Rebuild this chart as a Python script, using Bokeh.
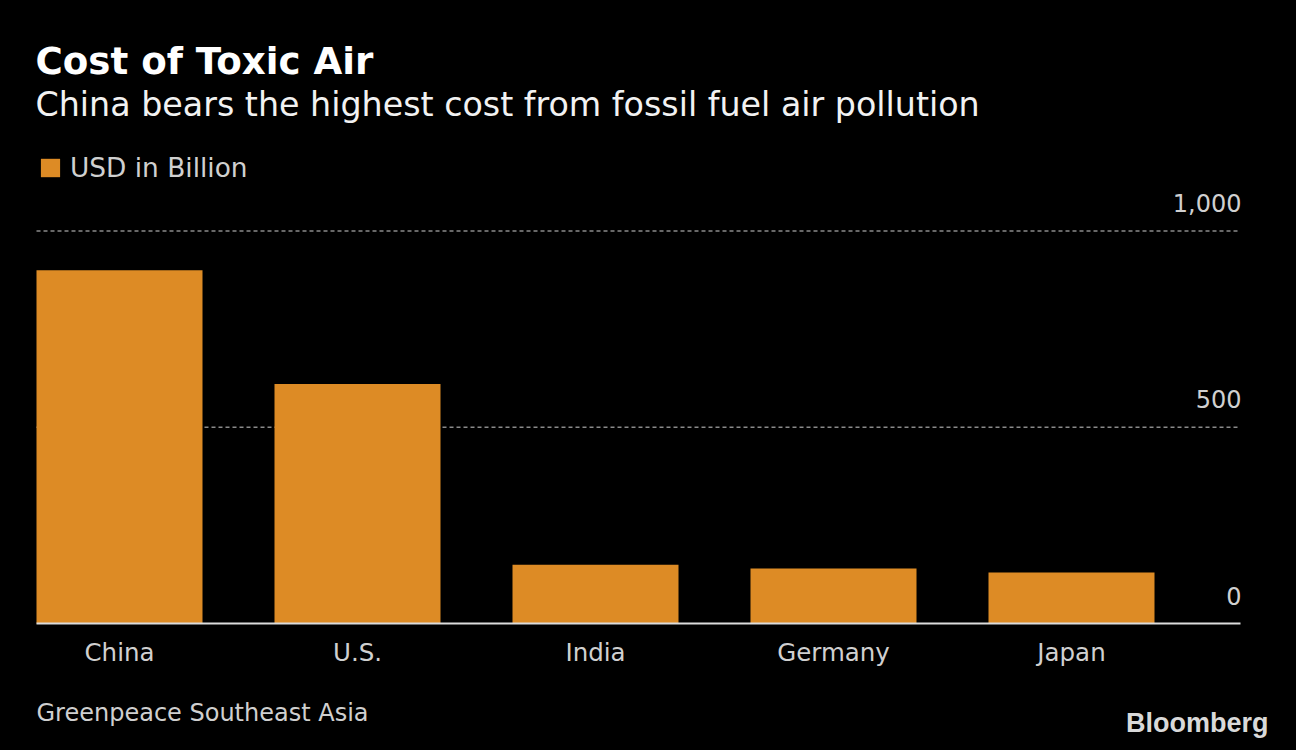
from bokeh.plotting import figure
from bokeh.models import Range1d, Label, Legend, LegendItem, ColumnDataSource
from bokeh.embed import file_html
from bokeh.resources import INLINE
from bokeh.core.properties import value

# ---- data ----
countries = ["China", "U.S.", "India", "Germany", "Japan"]
cost_usd_bn = [900, 610, 150, 140, 130]
y_ticks = [0, 500, 1000]
y_tick_labels = ["0", "500", "1,000"]

title_text = "Cost of Toxic Air"
subtitle_text = "China bears the highest cost from fossil fuel air pollution"
legend_text = "USD in Billion"
source_text = "Greenpeace Southeast Asia"
logo_text = "Bloomberg"

# ---- layout / style ----
BAR = "#dd8b25"
W, H = 1296, 750
FONT = "DejaVu Sans"
PITCH = 238.0          # px between category centres
BAR_W = 166.0 / PITCH  # bar width in category units
PX_PER_UNIT = 0.3925   # px per billion USD
ZERO_Y = 623           # px from top of the canvas
FIRST_X = 119          # px centre of first category
X_LEFT = (36 - FIRST_X) / PITCH
X_RIGHT = (1240 - FIRST_X) / PITCH

x_range = Range1d(-FIRST_X / PITCH, (W - FIRST_X) / PITCH)
y_range = Range1d(-(H - ZERO_Y) / PX_PER_UNIT, ZERO_Y / PX_PER_UNIT)

x_pos = list(range(len(countries)))
src = ColumnDataSource(dict(x=x_pos, top=cost_usd_bn, name=countries))

p = figure(width=W, height=H, output_backend="svg", toolbar_location=None,
           x_range=x_range, y_range=y_range,
           x_axis_location=None, y_axis_location=None,
           min_border=0, min_border_left=0, min_border_right=0,
           min_border_top=0, min_border_bottom=0,
           background_fill_color="black", border_fill_color="black",
           outline_line_color=None)
p.grid.visible = False

# dashed gridlines (non-zero ticks)
grid_vals = [v for v in y_ticks if v > 0]
p.segment(x0=[X_LEFT] * len(grid_vals), x1=[X_RIGHT] * len(grid_vals),
          y0=grid_vals, y1=grid_vals, line_color="#8a8a8a",
          line_dash="4 3", line_width=1.5)

bars = p.vbar(x="x", top="top", bottom=0, width=BAR_W, source=src,
              fill_color=BAR, line_color=None)

# baseline
p.segment(x0=[X_LEFT], x1=[X_RIGHT], y0=[0], y1=[0],
          line_color="#dcdcdc", line_width=2)

# y tick labels, right-aligned above the gridlines
tick_src = ColumnDataSource(dict(x=[X_RIGHT] * len(y_ticks), y=y_ticks, t=y_tick_labels))
p.text(x="x", y="y", text="t", source=tick_src, text_align="right",
       text_baseline="alphabetic", y_offset=-28, x_offset=1,
       text_font=value(FONT), text_font_size="24px", text_color="#d0d0d0")

# category labels below the baseline
p.text(x="x", y=0, text="name", source=src, text_align="center",
       text_baseline="alphabetic", y_offset=29,
       text_font=value(FONT), text_font_size="24.5px", text_color="#d0d0d0")

# legend
legend = Legend(items=[LegendItem(label=legend_text, renderers=[bars])],
                location=(38, 567), orientation="horizontal",
                background_fill_alpha=0, border_line_color=None,
                label_text_font=FONT, label_text_font_size="26.4px",
                label_text_color="#d0d0d0", glyph_width=24, glyph_height=23,
                label_standoff=8, padding=0, margin=0)
p.add_layout(legend, "center")

# titles and notes (screen units, from the bottom-left of the canvas)
def add_label(text, x, baseline_from_top, size, color, style="normal",
              font=FONT, align="left"):
    shift = 0.4 * size
    p.add_layout(Label(x=x, y=H - baseline_from_top + shift,
                       x_units="screen", y_units="screen",
                       text=text, text_font=font, text_font_size=f"{size}px",
                       text_color=color, text_font_style=style, text_align=align,
                       text_baseline="alphabetic"))

add_label(title_text, 35, 75, 37.2, "#ffffff", style="bold")
add_label(subtitle_text, 35, 117, 33.3, "#f2f2f2")
add_label(source_text, 36, 722, 24, "#cfcfcf")
add_label(logo_text, 1268, 733, 27, "#d9d9d9", style="bold",
          font="Liberation Sans", align="right")

html = file_html(p, INLINE)
html = html.replace("<head>", "<head><style>html,body{background:#000;}</style>", 1)
open("out.html", "w").write(html)
